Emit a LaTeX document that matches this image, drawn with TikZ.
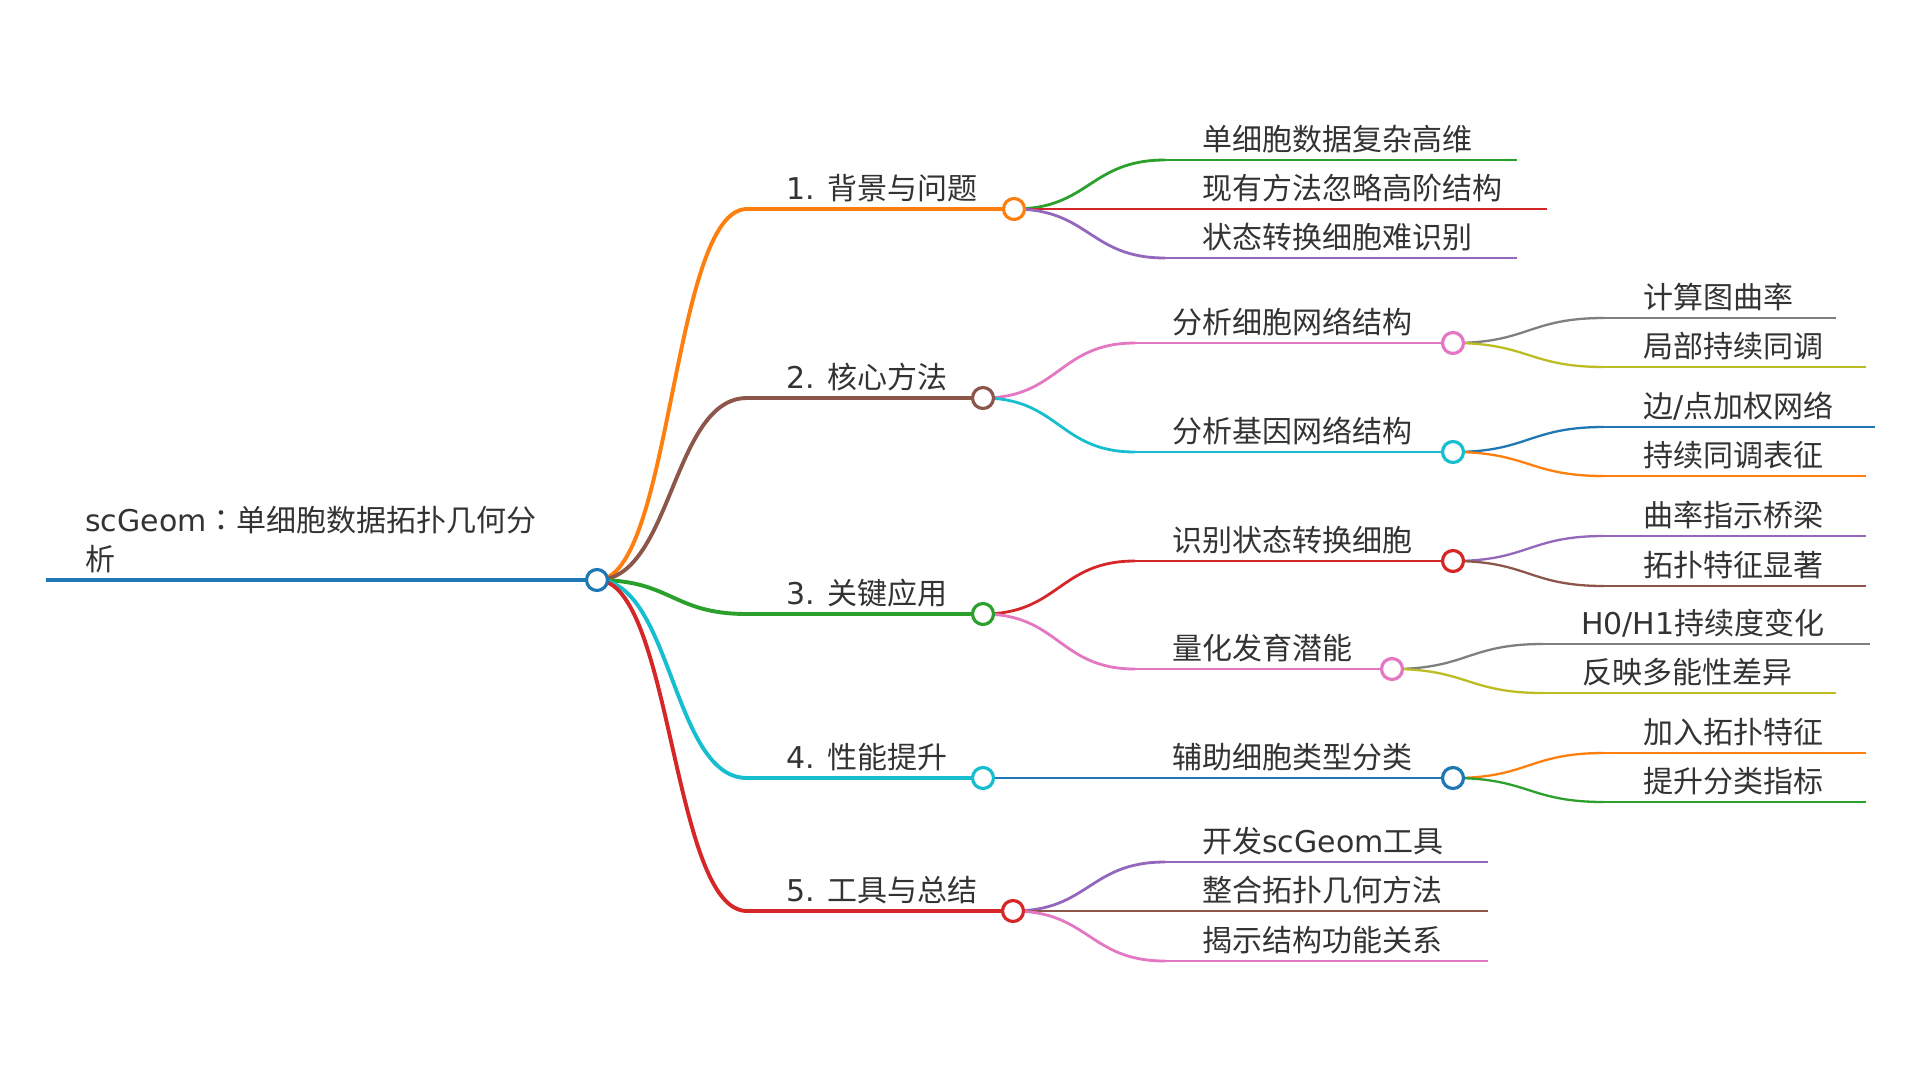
\documentclass[tikz,border=0pt]{standalone}
\usepackage{fontspec}
\setmainfont{DejaVu Sans}
\newfontfamily\cjk{Noto Sans CJK SC}
\newfontfamily\cjktc{Noto Sans CJK TC}
\usetikzlibrary{calc}
\definecolor{cBlue}{HTML}{1F77B4}
\definecolor{cOrange}{HTML}{FF7F0E}
\definecolor{cGreen}{HTML}{2CA02C}
\definecolor{cRed}{HTML}{D62728}
\definecolor{cPurple}{HTML}{9467BD}
\definecolor{cBrown}{HTML}{8C564B}
\definecolor{cPink}{HTML}{E377C2}
\definecolor{cGray}{HTML}{7F7F7F}
\definecolor{cOlive}{HTML}{BCBD22}
\definecolor{cCyan}{HTML}{17BECF}
\definecolor{txt}{HTML}{333333}
\pgfdeclarelayer{bg}
\pgfsetlayers{bg,main}
\tikzset{
  mmtext/.style={anchor=base west, inner sep=0pt, text=txt, font=\fontsize{30}{38.5}\selectfont},
  mmdot/.style={circle, draw=#1, fill=white, line width=3.2pt, minimum size=21pt, inner sep=0pt},
  lw0/.style={line width=4.8pt},
  lw1/.style={line width=3.9pt},
  lw2/.style={line width=2.8pt},
  lw3/.style={line width=2.3pt}
}
\newcommand\mmlink[3]{%
  \draw[#3] let \p1=(#1.center), \p2=(#2) in (\p1) .. controls ({0.5*\x1+0.5*\x2},\y1) and ({0.5*\x1+0.5*\x2},\y2) .. (\p2);}
\begin{document}
\begin{tikzpicture}[x=1pt,y=-1pt]
\useasboundingbox (0,0) rectangle (1920,1080);

% ---------- root
\node[mmdot=cBlue] (R) at (597,580) {};
\coordinate (R0) at (46,580);
\node[mmtext] (Rt) at (85,531.5) {\vtop{\hbox{scGeom{\cjktc ：}{\cjk 单细胞数据拓扑几何分}}\hbox{\cjk 析}}};

% ---------- level 1
\node[mmdot=cOrange] (A) at (1014,209) {};
\coordinate (As) at (747,209);
\node[mmtext] (At) at (786,199) {1. {\cjk 背景与问题}};

\node[mmdot=cBrown] (B) at (983,398) {};
\coordinate (Bs) at (747,398);
\node[mmtext] (Bt) at (786,388) {2. {\cjk 核心方法}};

\node[mmdot=cGreen] (C) at (983,614) {};
\coordinate (Cs) at (747,614);
\node[mmtext] (Ct) at (786,604) {3. {\cjk 关键应用}};

\node[mmdot=cCyan] (D) at (983,778) {};
\coordinate (Ds) at (747,778);
\node[mmtext] (Dt) at (786,768) {4. {\cjk 性能提升}};

\node[mmdot=cRed] (E) at (1013,911) {};
\coordinate (Es) at (747,911);
\node[mmtext] (Et) at (786,901) {5. {\cjk 工具与总结}};

% ---------- level 2 of A
\coordinate (A1s) at (1165,160); \coordinate (A1e) at (1517,160);
\node[mmtext] (A1t) at (1202,150) {\cjk 单细胞数据复杂高维};
\coordinate (A2s) at (1165,209); \coordinate (A2e) at (1547,209);
\node[mmtext] (A2t) at (1202,199) {\cjk 现有方法忽略高阶结构};
\coordinate (A3s) at (1165,258); \coordinate (A3e) at (1517,258);
\node[mmtext] (A3t) at (1202,248) {\cjk 状态转换细胞难识别};

% ---------- level 2 of B
\node[mmdot=cPink] (B1) at (1453,343) {};
\coordinate (B1s) at (1135,343);
\node[mmtext] (B1t) at (1172,333) {\cjk 分析细胞网络结构};
\node[mmdot=cCyan] (B2) at (1453,452) {};
\coordinate (B2s) at (1135,452);
\node[mmtext] (B2t) at (1172,442) {\cjk 分析基因网络结构};

\coordinate (B11s) at (1604,318); \coordinate (B11e) at (1836,318);
\node[mmtext] (B11t) at (1643,308) {\cjk 计算图曲率};
\coordinate (B12s) at (1604,367); \coordinate (B12e) at (1866,367);
\node[mmtext] (B12t) at (1643,357) {\cjk 局部持续同调};
\coordinate (B21s) at (1604,427); \coordinate (B21e) at (1875,427);
\node[mmtext] (B21t) at (1643,417) {{\cjk 边}/{\cjk 点加权网络}};
\coordinate (B22s) at (1604,476); \coordinate (B22e) at (1866,476);
\node[mmtext] (B22t) at (1643,466) {\cjk 持续同调表征};

% ---------- level 2 of C
\node[mmdot=cRed] (C1) at (1453,561) {};
\coordinate (C1s) at (1135,561);
\node[mmtext] (C1t) at (1172,551) {\cjk 识别状态转换细胞};
\node[mmdot=cPink] (C2) at (1392,669) {};
\coordinate (C2s) at (1135,669);
\node[mmtext] (C2t) at (1172,659) {\cjk 量化发育潜能};

\coordinate (C11s) at (1604,536); \coordinate (C11e) at (1866,536);
\node[mmtext] (C11t) at (1643,526) {\cjk 曲率指示桥梁};
\coordinate (C12s) at (1604,586); \coordinate (C12e) at (1866,586);
\node[mmtext] (C12t) at (1643,576) {\cjk 拓扑特征显著};
\coordinate (C21s) at (1543,644); \coordinate (C21e) at (1870,644);
\node[mmtext] (C21t) at (1581,634) {H0/H1{\cjk 持续度变化}};
\coordinate (C22s) at (1543,693); \coordinate (C22e) at (1836,693);
\node[mmtext] (C22t) at (1582,683) {\cjk 反映多能性差异};

% ---------- level 2 of D
\node[mmdot=cBlue] (D1) at (1453,778) {};
\coordinate (D1s) at (1135,778);
\node[mmtext] (D1t) at (1172,768) {\cjk 辅助细胞类型分类};
\coordinate (D11s) at (1604,753); \coordinate (D11e) at (1866,753);
\node[mmtext] (D11t) at (1643,743) {\cjk 加入拓扑特征};
\coordinate (D12s) at (1604,802); \coordinate (D12e) at (1866,802);
\node[mmtext] (D12t) at (1643,792) {\cjk 提升分类指标};

% ---------- level 2 of E
\coordinate (E1s) at (1165,862); \coordinate (E1e) at (1488,862);
\node[mmtext] (E1t) at (1202,852) {{\cjk 开发}scGeom{\cjk 工具}};
\coordinate (E2s) at (1165,911); \coordinate (E2e) at (1488,911);
\node[mmtext] (E2t) at (1202,901) {\cjk 整合拓扑几何方法};
\coordinate (E3s) at (1165,961); \coordinate (E3e) at (1488,961);
\node[mmtext] (E3t) at (1202,951) {\cjk 揭示结构功能关系};

\begin{pgfonlayer}{bg}
  \fill[white] (0,0) rectangle (1920,1080);
  % root
  \draw[cBlue, lw0] (R0) -- (R.center);
  % level 1
  \mmlink{R}{As}{cOrange, lw1} \draw[cOrange, lw1] (As) -- (A.center);
  \mmlink{R}{Bs}{cBrown, lw1}  \draw[cBrown, lw1] (Bs) -- (B.center);
  \mmlink{R}{Cs}{cGreen, lw1}  \draw[cGreen, lw1] (Cs) -- (C.center);
  \mmlink{R}{Ds}{cCyan, lw1}   \draw[cCyan, lw1] (Ds) -- (D.center);
  \mmlink{R}{Es}{cRed, lw1}    \draw[cRed, lw1] (Es) -- (E.center);
  % A
  \mmlink{A}{A1s}{cGreen, lw2}  \draw[cGreen, lw2] (A1s) -- (A1e);
  \mmlink{A}{A2s}{cRed, lw2}    \draw[cRed, lw2] (A2s) -- (A2e);
  \mmlink{A}{A3s}{cPurple, lw2} \draw[cPurple, lw2] (A3s) -- (A3e);
  % B
  \mmlink{B}{B1s}{cPink, lw2} \draw[cPink, lw2] (B1s) -- (B1.center);
  \mmlink{B}{B2s}{cCyan, lw2} \draw[cCyan, lw2] (B2s) -- (B2.center);
  \mmlink{B1}{B11s}{cGray, lw3}   \draw[cGray, lw3] (B11s) -- (B11e);
  \mmlink{B1}{B12s}{cOlive, lw3}  \draw[cOlive, lw3] (B12s) -- (B12e);
  \mmlink{B2}{B21s}{cBlue, lw3}   \draw[cBlue, lw3] (B21s) -- (B21e);
  \mmlink{B2}{B22s}{cOrange, lw3} \draw[cOrange, lw3] (B22s) -- (B22e);
  % C
  \mmlink{C}{C1s}{cRed, lw2}  \draw[cRed, lw2] (C1s) -- (C1.center);
  \mmlink{C}{C2s}{cPink, lw2} \draw[cPink, lw2] (C2s) -- (C2.center);
  \mmlink{C1}{C11s}{cPurple, lw3} \draw[cPurple, lw3] (C11s) -- (C11e);
  \mmlink{C1}{C12s}{cBrown, lw3}  \draw[cBrown, lw3] (C12s) -- (C12e);
  \mmlink{C2}{C21s}{cGray, lw3}   \draw[cGray, lw3] (C21s) -- (C21e);
  \mmlink{C2}{C22s}{cOlive, lw3}  \draw[cOlive, lw3] (C22s) -- (C22e);
  % D
  \mmlink{D}{D1s}{cBlue, lw2} \draw[cBlue, lw2] (D1s) -- (D1.center);
  \mmlink{D1}{D11s}{cOrange, lw3} \draw[cOrange, lw3] (D11s) -- (D11e);
  \mmlink{D1}{D12s}{cGreen, lw3}  \draw[cGreen, lw3] (D12s) -- (D12e);
  % E
  \mmlink{E}{E1s}{cPurple, lw2} \draw[cPurple, lw2] (E1s) -- (E1e);
  \mmlink{E}{E2s}{cBrown, lw2}  \draw[cBrown, lw2] (E2s) -- (E2e);
  \mmlink{E}{E3s}{cPink, lw2}   \draw[cPink, lw2] (E3s) -- (E3e);
\end{pgfonlayer}
\end{tikzpicture}
\end{document}
